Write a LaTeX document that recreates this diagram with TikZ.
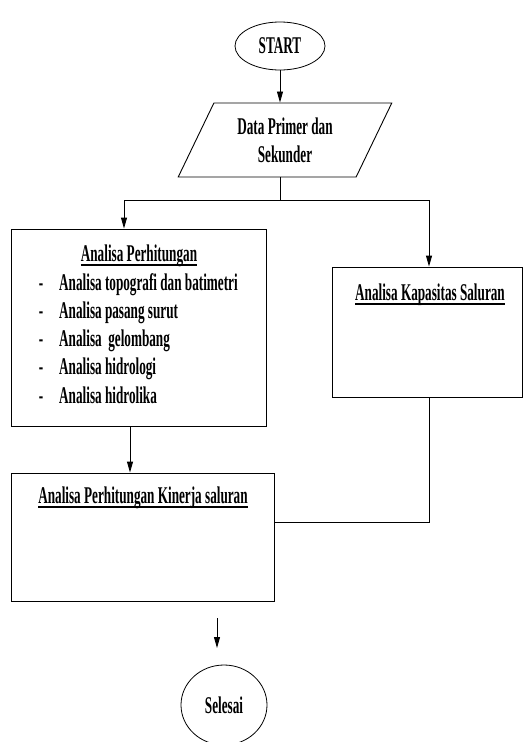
\documentclass[tikz,border=0pt]{standalone}
\usepackage{fontspec}
\setmainfont{Liberation Serif}[FakeStretch=0.55]
\usetikzlibrary{shapes.geometric,arrows.meta,positioning,calc}

\newsavebox{\kotakteks}
\newcommand{\garis}[1]{\sbox{\kotakteks}{#1}\usebox{\kotakteks}\llap{\rule[-5pt]{\wd\kotakteks}{1.8pt}}}

\tikzset{
  teks/.style={inner sep=0pt, font=\bfseries\fontsize{24}{28}\selectfont},
  kotak/.style={draw, line width=0.9pt, rectangle, inner sep=0pt},
  oval/.style={draw, line width=0.8pt, ellipse, inner sep=0pt, teks},
  jajar/.style={draw, line width=0.9pt, trapezium, trapezium left angle=62, trapezium right angle=118,
    trapezium stretches=true, align=center, teks},
  panah/.style={-{Triangle[length=11pt,width=6pt]}, line width=0.9pt},
  garisan/.style={line width=0.9pt}
}

\begin{document}
\begin{tikzpicture}[x=1pt,y=1pt]
\useasboundingbox (0,0) rectangle (523,-742);

% mulai dan data
\node[oval, minimum width=90pt, minimum height=48pt] (mulai) at (280,-46) {START};
\node[jajar, minimum width=214pt, minimum height=74pt] (data) at (285,-140) {Data Primer dan\\Sekunder};

% kotak analisa
\node[kotak, minimum width=255pt, minimum height=197pt] (hitung) at (138.5,-327.5) {};
\node[kotak, minimum width=190pt, minimum height=130pt] (kapasitas) at (427,-332) {};
\node[kotak, minimum width=263pt, minimum height=128pt] (kinerja) at (142.5,-537) {};
\node[oval, minimum width=86pt, minimum height=80pt] (selesai) at (224,-705) {Selesai};

% isi kotak
\node[teks, anchor=base] (judulhitung) at (139,-261) {\garis{Analisa Perhitungan}};
\foreach \t [count=\i] in {Analisa topografi dan batimetri, Analisa pasang surut,
    Analisa\ \ gelombang, Analisa hidrologi, Analisa hidrolika} {
  \node[teks, anchor=base] (strip\i) at (41,-262-28.2*\i) {-};
  \node[teks, anchor=base west] (butir\i) at (59,-262-28.2*\i) {\t};
}
\node[teks, anchor=base] (judulkap) at (430,-300) {\garis{Analisa Kapasitas Saluran}};
\node[teks, anchor=base] (judulkinerja) at (143,-503) {\garis{Analisa Perhitungan Kinerja saluran}};

% garis alir
\coordinate (cabang) at (280,-200);
\coordinate (kiri) at (124,-200);
\coordinate (kanan) at (429,-200);
\draw[panah] (mulai.south) -- (mulai.south |- data.north);
\draw[garisan] (mulai.south |- data.south) -- (cabang);
\draw[garisan] (kiri) -- (kanan);
\draw[panah] (kiri) -- (kiri |- hitung.north);
\draw[panah] (kanan) -- (kanan |- kapasitas.north);
\coordinate (turun) at (130,0);
\draw[panah] (turun |- hitung.south) -- (turun |- kinerja.north);
\coordinate (belok) at (429,-522);
\draw[garisan] (kanan |- kapasitas.south) -- (belok) -- (belok -| kinerja.east);
\coordinate (ujung1) at (217,-618);
\coordinate (ujung2) at (217,-648);
\draw[panah] (ujung1) -- (ujung2);
\end{tikzpicture}
\end{document}
